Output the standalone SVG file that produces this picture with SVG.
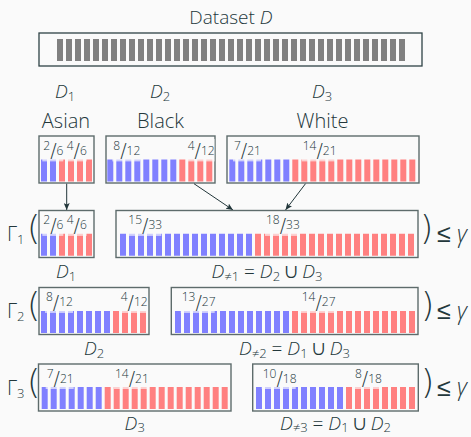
<svg xmlns="http://www.w3.org/2000/svg" width="471" height="437" viewBox="0 0 471 437">
<style>
.t{font-family:"Open Sans","Noto Sans",sans-serif;fill:#23373b;font-weight:300}
.m{font-size:19px}
.i{font-style:italic}
.s{font-size:13px}
.u{font-family:"Noto Sans Math","Noto Sans Symbols","Liberation Serif","DejaVu Serif",serif;font-weight:400;font-size:18px}
.bx{fill:none;stroke:#5d6b6b;stroke-width:1.4}
.top{fill:none;stroke:#2f4346;stroke-width:1.3}
.bar{fill:none;stroke-width:22;stroke-dasharray:6 3}
.b{stroke:#8080ff}.r{stroke:#ff8080}.g{stroke:#808080}
.fr{font-size:12px}
.sl{font-family:"DejaVu Sans",sans-serif;font-size:19px;font-weight:300}
.lb{fill:#fafafa;fill-opacity:0.65}
.ar{stroke:#23373b;stroke-width:1;fill:none;marker-end:url(#ah)}
.pa{font-family:"DejaVu Sans",sans-serif;font-weight:200;font-size:34px}
.gm{font-size:20px}
.le{font-family:"DejaVu Sans",sans-serif;font-weight:200;font-size:25px}
</style>
<defs>
<marker id="ah" markerUnits="userSpaceOnUse" markerWidth="8" markerHeight="6" refX="7" refY="3" orient="auto">
<path d="M0,0 L7,3 L0,6 L1.5,3 z" fill="#23373b"/>
</marker>
</defs>
<rect width="471" height="437" fill="#fafafa"/>

<g id="dataset">
<text class="t" x="231" y="24" font-size="19" text-anchor="middle">Dataset <tspan class="i">D</tspan></text>
<rect class="top" x="39" y="33" width="383" height="33"/>
<line class="bar g" x1="57" y1="50" x2="405" y2="50"/>
</g>

<g id="D1-top">
<text class="t m" x="65" y="98.3" text-anchor="middle"><tspan class="i">D</tspan><tspan class="s" dy="2.5">1</tspan></text>
<text class="t" x="66" y="128.3" font-size="20" text-anchor="middle">Asian</text>
<rect class="bx" x="39" y="136" width="55" height="47"/>
<line class="bar b" x1="41" y1="170.4" x2="56" y2="170.4"/>
<line class="bar r" x1="59" y1="170.4" x2="92" y2="170.4"/>
<rect class="lb" x="42.3" y="139" width="21" height="22.4"/>
<rect class="lb" x="65.7" y="139" width="21" height="22.4"/>
<text class="t fr" x="43.3" y="149.7">2<tspan class="sl" dy="7.3">/</tspan><tspan dy="-2.3">6</tspan></text>
<text class="t fr" x="66.7" y="149.7">4<tspan class="sl" dy="7.3">/</tspan><tspan dy="-2.3">6</tspan></text>
</g>

<g id="D2-top">
<text class="t m" x="160" y="98.3" text-anchor="middle"><tspan class="i">D</tspan><tspan class="s" dy="2.5">2</tspan></text>
<text class="t" x="160.5" y="128.3" font-size="20" text-anchor="middle">Black</text>
<rect class="bx" x="106" y="136" width="109" height="47"/>
<line class="bar b" x1="107.3" y1="170.4" x2="176.3" y2="170.4"/>
<line class="bar r" x1="179.3" y1="170.4" x2="212.3" y2="170.4"/>
<rect class="lb" x="112.3" y="139" width="28" height="22.4"/>
<rect class="lb" x="186.7" y="139" width="28" height="22.4"/>
<text class="t fr" x="113.3" y="149.7">8<tspan class="sl" dy="7.3">/</tspan><tspan dy="-2.3">12</tspan></text>
<text class="t fr" x="187.7" y="149.7">4<tspan class="sl" dy="7.3">/</tspan><tspan dy="-2.3">12</tspan></text>
</g>

<g id="D3-top">
<text class="t m" x="322" y="98.3" text-anchor="middle"><tspan class="i">D</tspan><tspan class="s" dy="2.5">3</tspan></text>
<text class="t" x="322.5" y="128.3" font-size="20" text-anchor="middle">White</text>
<rect class="bx" x="227" y="136" width="192" height="47"/>
<line class="bar b" x1="229.3" y1="170.4" x2="289.3" y2="170.4"/>
<line class="bar r" x1="292.3" y1="170.4" x2="415.3" y2="170.4"/>
<rect class="lb" x="233" y="139" width="28" height="22.4"/>
<rect class="lb" x="301.7" y="139" width="34" height="22.4"/>
<text class="t fr" x="234" y="149.7">7<tspan class="sl" dy="7.3">/</tspan><tspan dy="-2.3">21</tspan></text>
<text class="t fr" x="302.7" y="149.7">14<tspan class="sl" dy="7.3">/</tspan><tspan dy="-2.3">21</tspan></text>
</g>

<g id="connectors">
<line class="ar" x1="66.7" y1="183.7" x2="66.7" y2="210"/>
<line class="ar" x1="194" y1="183.7" x2="233" y2="210"/>
<line class="ar" x1="305.5" y1="183.7" x2="285.5" y2="210"/>
</g>

<g id="gamma1">
<text class="t gm" x="7" y="241">Γ<tspan font-size="13" dy="3">1</tspan></text>
<text class="t pa" x="27" y="240">(</text>
<rect class="bx" x="39" y="210.5" width="55" height="47"/>
<line class="bar b" x1="41" y1="244.7" x2="56" y2="244.7"/>
<line class="bar r" x1="59" y1="244.7" x2="92" y2="244.7"/>
<rect class="lb" x="42.3" y="213.5" width="21" height="22.4"/>
<rect class="lb" x="65.7" y="213.5" width="21" height="22.4"/>
<text class="t fr" x="43.3" y="224.2">2<tspan class="sl" dy="7.3">/</tspan><tspan dy="-2.3">6</tspan></text>
<text class="t fr" x="66.7" y="224.2">4<tspan class="sl" dy="7.3">/</tspan><tspan dy="-2.3">6</tspan></text>
<rect class="bx" x="116" y="210.5" width="302" height="47"/>
<line class="bar b" x1="120" y1="244.7" x2="252" y2="244.7"/>
<line class="bar r" x1="255" y1="244.7" x2="414" y2="244.7"/>
<rect class="lb" x="127.3" y="213.5" width="34" height="22.4"/>
<rect class="lb" x="265" y="213.5" width="34" height="22.4"/>
<text class="t fr" x="128.3" y="224.2">15<tspan class="sl" dy="7.3">/</tspan><tspan dy="-2.3">33</tspan></text>
<text class="t fr" x="266" y="224.2">18<tspan class="sl" dy="7.3">/</tspan><tspan dy="-2.3">33</tspan></text>
<text class="t pa" x="420" y="240">)</text>
<text class="t le" x="437" y="242">≤</text>
<text class="t i" x="457" y="241.5" font-size="23">γ</text>
<text class="t m" x="66" y="278" text-anchor="middle"><tspan class="i">D</tspan><tspan class="s" dy="2.5">1</tspan></text>
<text class="t m" x="267" y="278" text-anchor="middle"><tspan class="i">D</tspan><tspan class="s" dy="2.5">≠1</tspan><tspan dy="-2.5"> = </tspan><tspan class="i">D</tspan><tspan class="s" dy="2.5">2</tspan><tspan dy="-2.5"> </tspan><tspan class="u">∪</tspan> <tspan class="i">D</tspan><tspan class="s" dy="2.5">3</tspan></text>
</g>

<g id="gamma2">
<text class="t gm" x="7" y="318">Γ<tspan font-size="13" dy="3">2</tspan></text>
<text class="t pa" x="27" y="317">(</text>
<rect class="bx" x="39" y="287.5" width="110" height="47"/>
<line class="bar b" x1="41" y1="321.9" x2="110" y2="321.9"/>
<line class="bar r" x1="113" y1="321.9" x2="146" y2="321.9"/>
<rect class="lb" x="45" y="290.5" width="28" height="22.4"/>
<rect class="lb" x="119.7" y="290.5" width="28" height="22.4"/>
<text class="t fr" x="46" y="301.2">8<tspan class="sl" dy="7.3">/</tspan><tspan dy="-2.3">12</tspan></text>
<text class="t fr" x="120.7" y="301.2">4<tspan class="sl" dy="7.3">/</tspan><tspan dy="-2.3">12</tspan></text>
<rect class="bx" x="171.3" y="287.5" width="246.7" height="47"/>
<line class="bar b" x1="175" y1="321.9" x2="289" y2="321.9"/>
<line class="bar r" x1="292" y1="321.9" x2="415" y2="321.9"/>
<rect class="lb" x="180.7" y="290.5" width="34" height="22.4"/>
<rect class="lb" x="300.7" y="290.5" width="34" height="22.4"/>
<text class="t fr" x="181.7" y="301.2">13<tspan class="sl" dy="7.3">/</tspan><tspan dy="-2.3">27</tspan></text>
<text class="t fr" x="301.7" y="301.2">14<tspan class="sl" dy="7.3">/</tspan><tspan dy="-2.3">27</tspan></text>
<text class="t pa" x="421" y="317">)</text>
<text class="t le" x="437" y="319">≤</text>
<text class="t i" x="457" y="318.5" font-size="23">γ</text>
<text class="t m" x="94" y="355" text-anchor="middle"><tspan class="i">D</tspan><tspan class="s" dy="2.5">2</tspan></text>
<text class="t m" x="294.5" y="355" text-anchor="middle"><tspan class="i">D</tspan><tspan class="s" dy="2.5">≠2</tspan><tspan dy="-2.5"> = </tspan><tspan class="i">D</tspan><tspan class="s" dy="2.5">1</tspan><tspan dy="-2.5"> </tspan><tspan class="u">∪</tspan> <tspan class="i">D</tspan><tspan class="s" dy="2.5">3</tspan></text>
</g>

<g id="gamma3">
<text class="t gm" x="7" y="394.5">Γ<tspan font-size="13" dy="3">3</tspan></text>
<text class="t pa" x="27" y="393.5">(</text>
<rect class="bx" x="38.5" y="364" width="192.5" height="47"/>
<line class="bar b" x1="41.7" y1="398" x2="101.7" y2="398"/>
<line class="bar r" x1="104.7" y1="398" x2="227.7" y2="398"/>
<rect class="lb" x="45.7" y="367" width="28" height="22"/>
<rect class="lb" x="114" y="367" width="34" height="22"/>
<text class="t fr" x="46.7" y="377.7">7<tspan class="sl" dy="7.3">/</tspan><tspan dy="-2.3">21</tspan></text>
<text class="t fr" x="115" y="377.7">14<tspan class="sl" dy="7.3">/</tspan><tspan dy="-2.3">21</tspan></text>
<rect class="bx" x="252.7" y="364" width="165.6" height="47"/>
<line class="bar b" x1="256" y1="398" x2="343" y2="398"/>
<line class="bar r" x1="346" y1="398" x2="415" y2="398"/>
<rect class="lb" x="261.7" y="367" width="34" height="22"/>
<rect class="lb" x="354" y="367" width="28" height="22"/>
<text class="t fr" x="262.7" y="377.7">10<tspan class="sl" dy="7.3">/</tspan><tspan dy="-2.3">18</tspan></text>
<text class="t fr" x="355" y="377.7">8<tspan class="sl" dy="7.3">/</tspan><tspan dy="-2.3">18</tspan></text>
<text class="t pa" x="421" y="393.5">)</text>
<text class="t le" x="437" y="395.5">≤</text>
<text class="t i" x="457" y="395" font-size="23">γ</text>
<text class="t m" x="134.7" y="430" text-anchor="middle"><tspan class="i">D</tspan><tspan class="s" dy="2">3</tspan></text>
<text class="t m" x="335.5" y="429.5" text-anchor="middle"><tspan class="i">D</tspan><tspan class="s" dy="2">≠3</tspan><tspan dy="-2"> = </tspan><tspan class="i">D</tspan><tspan class="s" dy="2">1</tspan><tspan dy="-2"> </tspan><tspan class="u">∪</tspan> <tspan class="i">D</tspan><tspan class="s" dy="2">2</tspan></text>
</g>
</svg>
